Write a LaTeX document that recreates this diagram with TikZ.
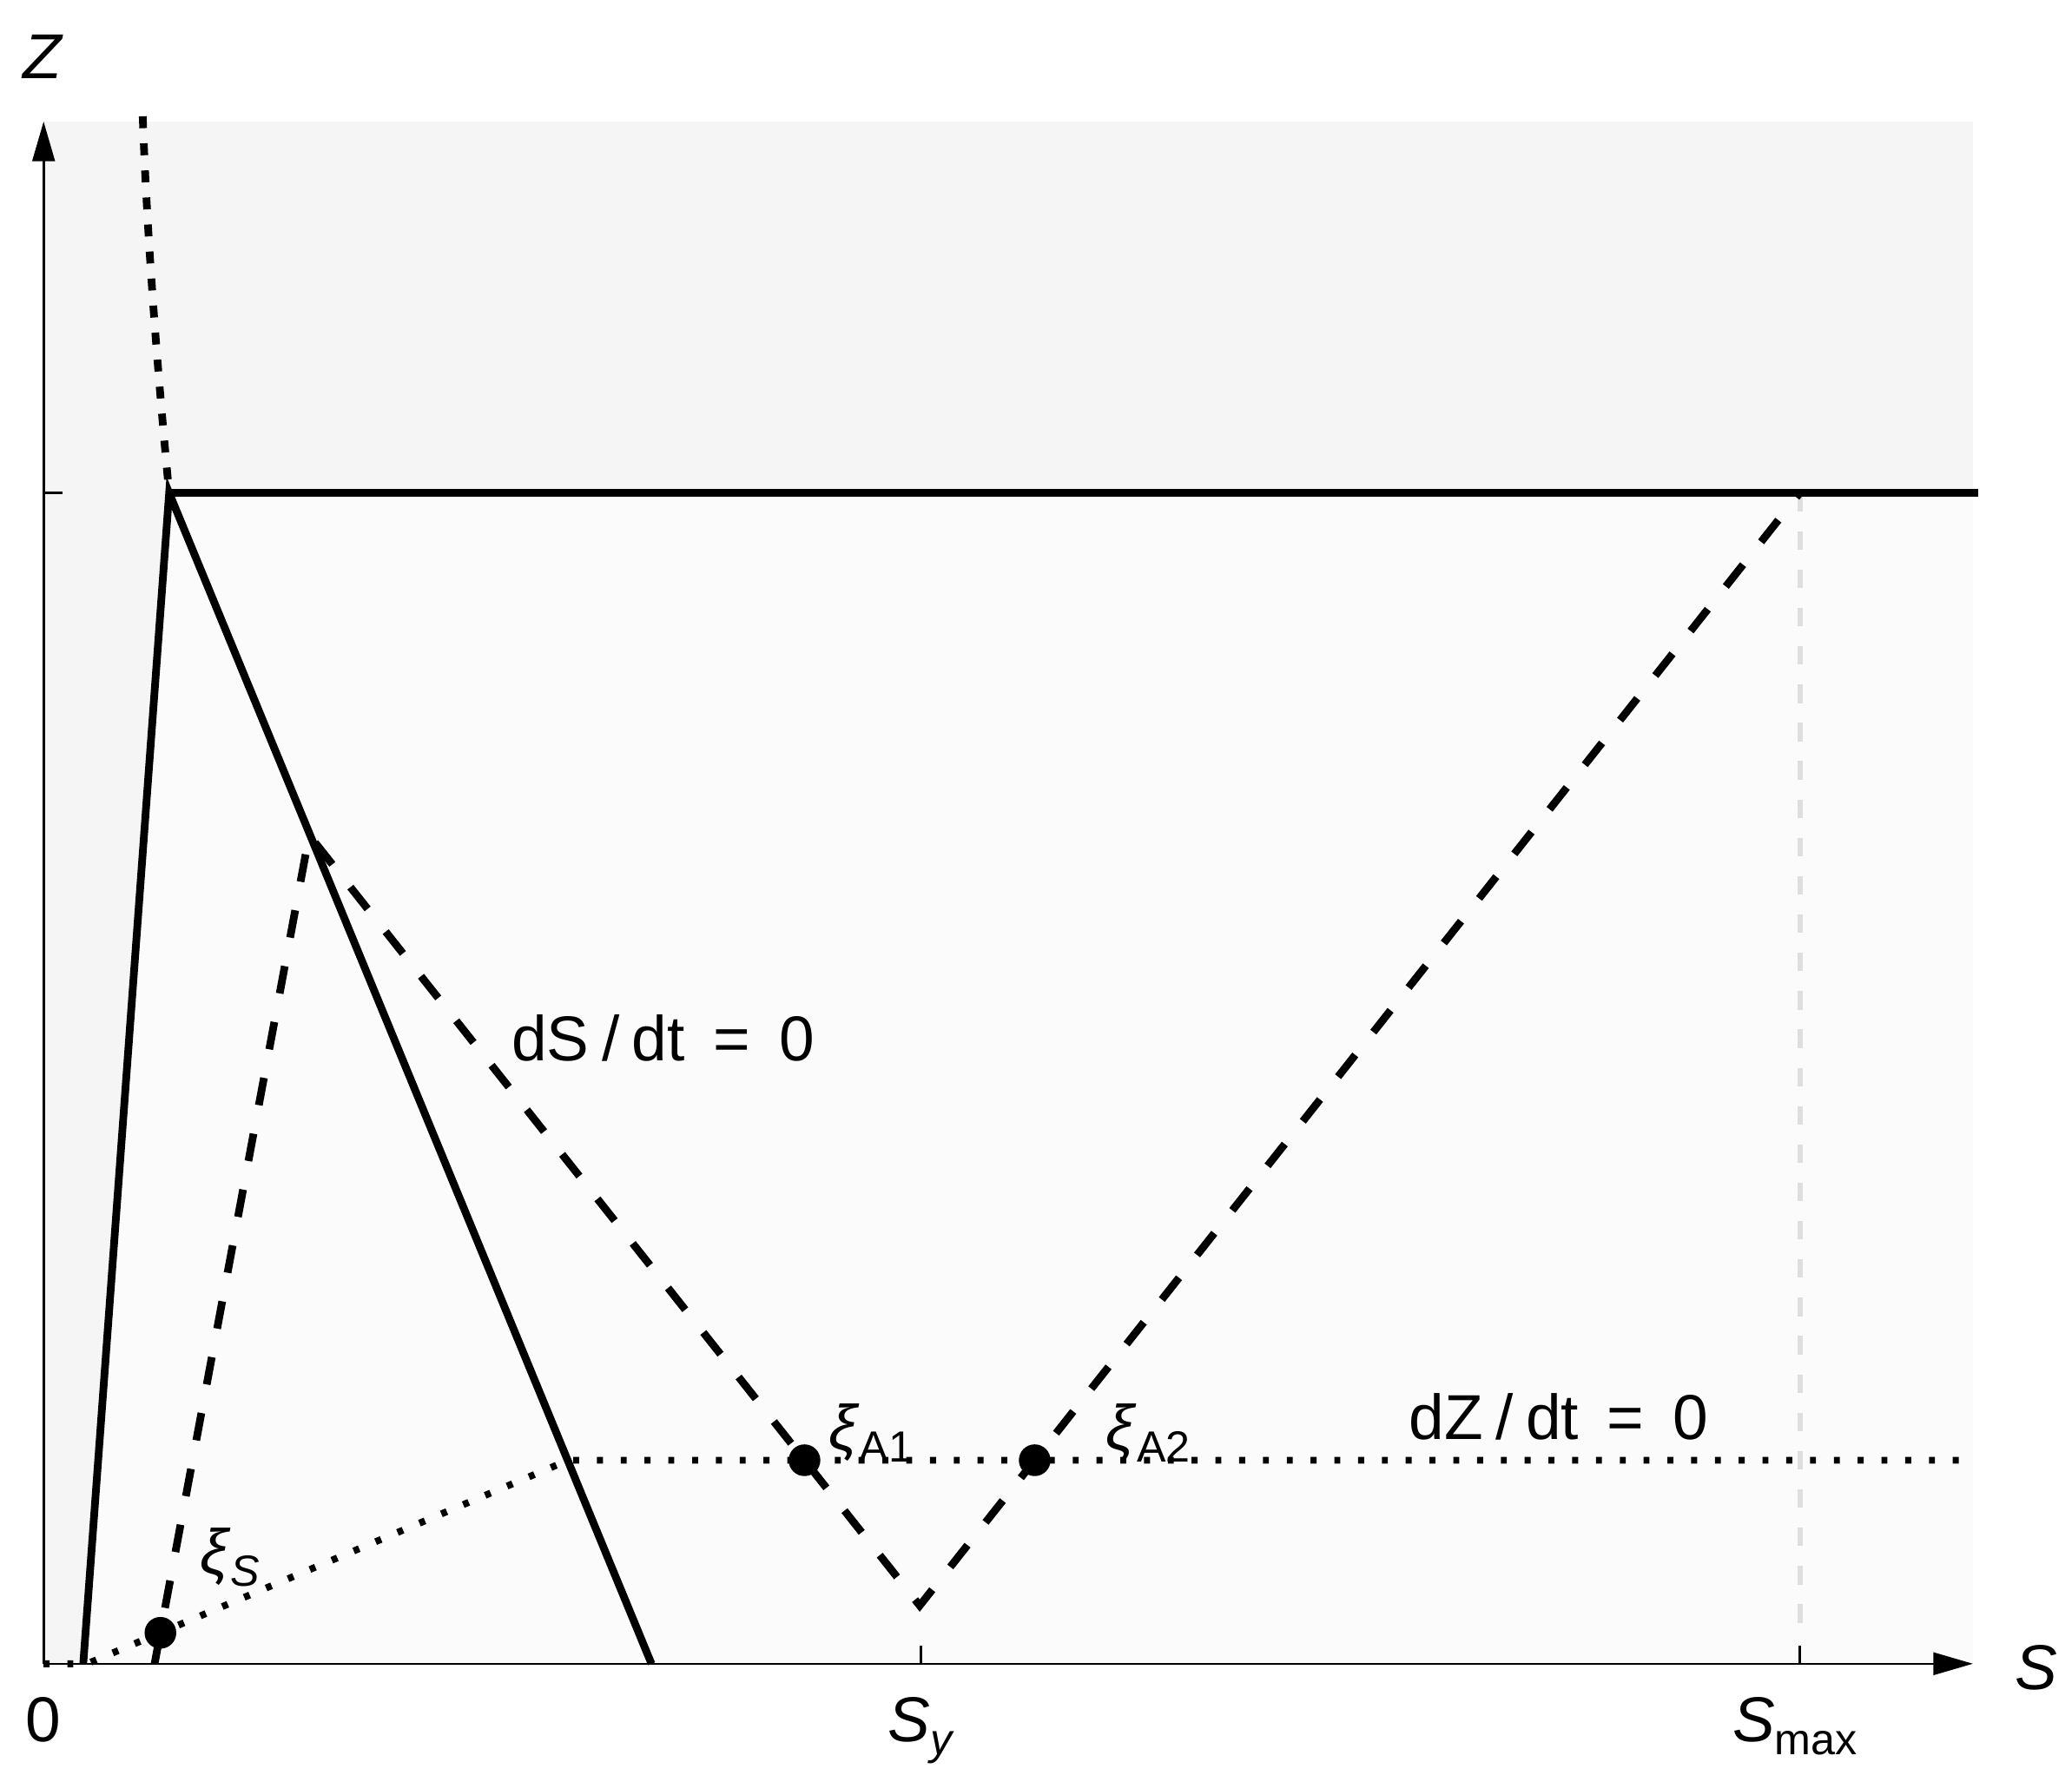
\documentclass[tikz,border=0pt]{standalone}
\usepackage{fontspec}
\setmainfont{Liberation Sans}
\usetikzlibrary{arrows.meta}
\newcommand\mysub[1]{\raisebox{-0.2em}{\fontsize{33}{33}\selectfont #1}}
\definecolor{topgray}{gray}{0.962}
\definecolor{lowgray}{gray}{0.985}
\definecolor{lightdash}{gray}{0.87}
\begin{document}
\begin{tikzpicture}[x=1pt,y=-1pt,
  every node/.style={font=\fontsize{48}{58}\selectfont, inner sep=0pt},
  axisline/.style={line width=1.7pt},
  thickline/.style={line width=5.8pt},
  dashline/.style={line width=5.8pt, dash pattern=on 21pt off 22pt},
  dotcurve/.style={line width=5.8pt, dash pattern=on 9pt off 11.5pt},
  dotline/.style={line width=5.2pt, dash pattern=on 4.5pt off 13.5pt},
  eqpt/.style={circle, fill=black, minimum size=24pt, inner sep=0pt},
  lab/.style={anchor=base west},
  axarrow/.style={-{Triangle[length=30pt,width=17pt]}}
]
\useasboundingbox (0,0) rectangle (1568,1348);
% key points
\coordinate (O) at (33,1259);
\coordinate (ytip) at (33,92);
\coordinate (xtip) at (1493,1259);
\coordinate (ztick) at (33,373);
\coordinate (ztickend) at (47,373);
\coordinate (apex) at (128,373);
\coordinate (lfoot) at (63,1259);
\coordinate (rfoot) at (493,1259);
\coordinate (hend) at (1497,373);
\coordinate (ctop) at (108,88);
\coordinate (dfoot) at (117,1259);
\coordinate (dapex) at (234,632);
\coordinate (vbot) at (696,1215);
\coordinate (vtop) at (1362,373);
\coordinate (zfoot) at (66,1259);
\coordinate (zknee) at (430,1105);
\coordinate (zend) at (1493,1105);
\coordinate (sy) at (697,1259);
\coordinate (sytop) at (697,1245);
\coordinate (smax) at (1362,1259);
\coordinate (smaxtop) at (1362,1245);
\coordinate (graybot) at (1362,1238);
% shaded regions
\fill[topgray] (33,92) rectangle (1493,373);
\fill[topgray] (ztick) -- (apex) -- (lfoot) -- (O) -- cycle;
\fill[lowgray] (apex) -- (1493,373) -- (1493,1259) -- (lfoot) -- cycle;
% light dashed marker at S_max
\draw[line width=4pt, draw=lightdash, dash pattern=on 14pt off 15pt] (vtop) -- (graybot);
% axes
\draw[axisline, axarrow] (O) -- (ytip);
\draw[axisline, axarrow] (O) -- (xtip);
\draw[axisline] (ztick) -- (ztickend);
\draw[axisline] (sy) -- (sytop);
\draw[axisline] (smax) -- (smaxtop);
% solid boundaries
\draw[thickline, line join=miter] (lfoot) -- (apex) -- (rfoot);
\draw[thickline] (apex) -- (hend);
% thick dotted curve
\draw[dotcurve] (ctop) .. controls (111.5,183) and (119,278) .. (apex);
% dS/dt = 0 nullcline
\draw[dashline] (dfoot) -- (dapex) -- (vbot) -- (vtop);
% dZ/dt = 0 nullcline
\draw[dotline] (O) -- (zfoot) -- (zknee) -- (zend);
% equilibria
\node[eqpt] (xiS) at (121.4,1235.6) {};
\node[eqpt] (xiA1) at (608.8,1105) {};
\node[eqpt] (xiA2) at (783,1105) {};
% labels
\node (lZ) at (33,43) {\textit{Z}};
\node (lS) at (1541,1262) {\textit{S}};
\node[anchor=base] (l0) at (33,1318) {0};
\node[lab] (lSy) at (672,1318) {\textit{S}\mysub{\textit{y}}};
\node[lab] (lSmax) at (1311,1318) {\textit{S}\mysub{max}};
\node[lab] (lxiS) at (151,1191) {\textit{ξ}\mysub{\textit{S}}};
\node[lab] (lxiA1) at (627,1097) {\textit{ξ}\mysub{A1}};
\node[lab] (lxiA2) at (837,1097) {\textit{ξ}\mysub{A2}};
\node[lab] (ldS) at (387,803) {dS\hspace{0.2em}/\hspace{0.2em}dt\hspace{0.45em}=\hspace{0.45em}0};
\node[lab] (ldZ) at (1066,1089) {dZ\hspace{0.2em}/\hspace{0.2em}dt\hspace{0.45em}=\hspace{0.45em}0};
\end{tikzpicture}
\end{document}
